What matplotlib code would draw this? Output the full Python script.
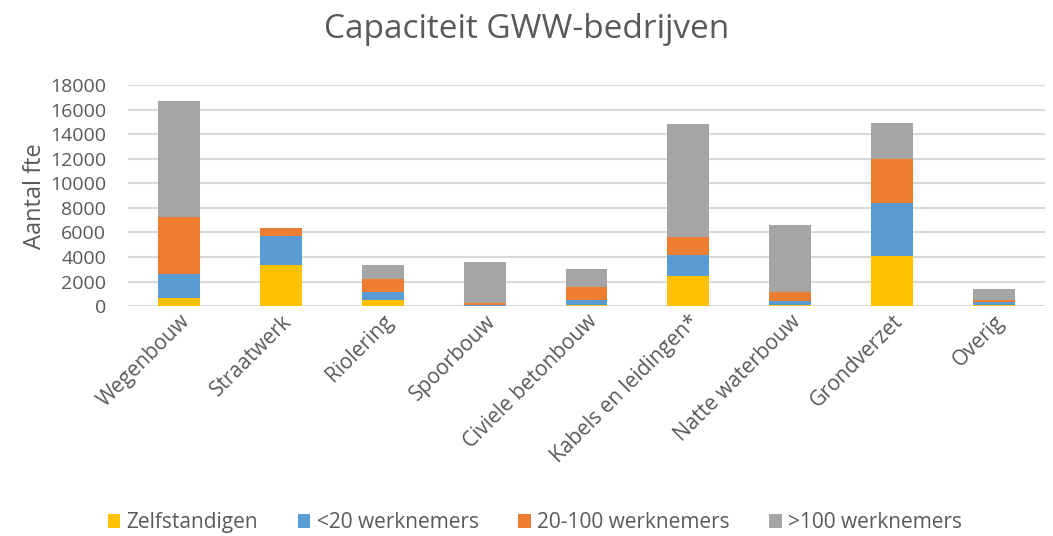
import numpy as np
import matplotlib
matplotlib.use("Agg")
import matplotlib.pyplot as plt

plt.rcParams["font.family"] = ["Open Sans", "DejaVu Sans"]

categories = ["Wegenbouw", "Straatwerk", "Riolering", "Spoorbouw", "Civiele betonbouw",
              "Kabels en leidingen*", "Natte waterbouw", "Grondverzet", "Overig"]
series_names = ["Zelfstandigen", "<20 werknemers", "20-100 werknemers", ">100 werknemers"]
zelfstandigen = [680, 3340, 490, 30, 50, 2470, 50, 4100, 50]
klein = [1920, 2360, 680, 50, 450, 1680, 360, 4260, 250]
midden = [4620, 700, 1030, 140, 1020, 1490, 700, 3660, 200]
groot = [9470, 0, 1110, 3340, 1470, 9230, 5480, 2930, 880]
colors = ["#FFC000", "#5B9BD5", "#ED7D31", "#A5A5A5"]

fig = plt.figure(figsize=(10.53, 5.36), dpi=100)
ax = fig.add_axes([0.122, 0.429, 0.87, 0.412])

x = np.arange(len(categories))
bottom = np.zeros(len(categories))
for name, vals, c in zip(series_names, [zelfstandigen, klein, midden, groot], colors):
    ax.bar(x, vals, 0.41, bottom=bottom, color=c, label=name, zorder=3)
    bottom += np.array(vals)

ax.set_ylim(0, 18000)
ax.set_yticks(range(0, 18001, 2000))
ax.set_xlim(-0.5, len(categories) - 0.5)
ax.yaxis.grid(True, color="#D9D9D9", linewidth=1.5, zorder=0)
for s in ax.spines.values():
    s.set_visible(False)
ax.tick_params(length=0, labelsize=14, colors="#595959")
ax.tick_params(axis="y", pad=16)
ax.set_xticks(x)
ax.set_xticklabels(categories, rotation=45, ha="right", rotation_mode="anchor", fontsize=15)
ax.set_ylabel("Aantal fte", fontsize=17, color="#595959", labelpad=2)

fig.suptitle("Capaciteit GWW-bedrijven", fontsize=24, color="#595959", y=0.975)
fig.legend(loc="lower center", ncol=4, frameon=False, fontsize=15, bbox_to_anchor=(0.508, -0.03),
           handlelength=0.6, handleheight=0.6, columnspacing=1.9, handletextpad=0.3,
           labelcolor="#595959")

fig.savefig("out.png", dpi=100)
